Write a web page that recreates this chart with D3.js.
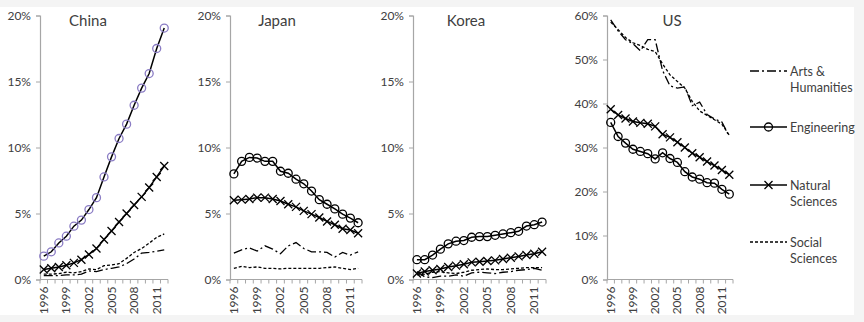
<!DOCTYPE html>
<html>
<head>
<meta charset="utf-8">
<script src="https://cdn.jsdelivr.net/npm/d3@7"></script>
<style>
  html, body { margin: 0; padding: 0; background: #f4f4f4; }
  svg { display: block; }
  text { font-family: Lato, "Open Sans", sans-serif; fill: #404040; }
</style>
</head>
<body>
<script>
// ---------- DATA ----------
const years = [1996,1997,1998,1999,2000,2001,2002,2003,2004,2005,2006,2007,2008,2009,2010,2011,2012];
const yearTickLabels = [1996,1999,2002,2005,2008,2011];
const seriesNames = ["Arts &\nHumanities", "Engineering", "Natural\nSciences", "Social\nSciences"];

const chinaArts = [0.3,0.3,0.3,0.35,0.35,0.4,0.65,0.6,0.75,0.85,0.95,1.2,1.55,2.0,2.05,2.15,2.25];
const chinaEng  = [1.77,2.1,2.77,3.28,4.04,4.5,5.3,6.2,7.77,9.29,10.68,11.77,13.2,14.5,15.6,17.5,19.05];
const chinaNat  = [0.76,0.85,0.95,1.08,1.26,1.5,1.9,2.35,3.03,3.68,4.36,5.0,5.65,6.26,6.97,7.77,8.6];
const chinaSoc  = [0.4,0.4,0.45,0.55,0.5,0.6,0.8,0.75,1.05,1.1,1.2,1.6,2.05,2.35,2.75,3.2,3.45];

const japanArts = [2.0,2.25,2.4,2.15,2.55,2.3,1.95,2.55,2.8,2.35,2.1,2.1,2.05,1.7,2.05,1.85,2.1];
const japanEng  = [8.0,8.95,9.25,9.2,8.95,8.95,8.2,8.05,7.6,7.25,6.7,6.05,5.7,5.35,4.95,4.65,4.3];
const japanNat  = [6.0,6.05,6.1,6.2,6.2,6.1,5.95,5.7,5.5,5.2,4.95,4.7,4.4,4.15,3.85,3.75,3.5];
const japanSoc  = [0.85,1.0,0.9,0.95,0.85,0.85,0.8,0.85,0.85,0.85,0.85,0.85,0.9,0.95,0.85,0.75,0.85];

const koreaArts = [0.6,0.2,0.15,0.25,0.25,0.35,0.25,0.5,0.55,0.5,0.45,0.55,0.6,0.7,0.75,0.85,0.7];
const koreaEng  = [1.5,1.5,1.85,2.3,2.7,2.9,2.95,3.2,3.25,3.25,3.35,3.45,3.55,3.65,4.05,4.15,4.35];
const koreaNat  = [0.45,0.6,0.7,0.8,0.95,1.05,1.15,1.3,1.35,1.4,1.45,1.55,1.65,1.75,1.85,1.95,2.1];
const koreaSoc  = [0.35,0.4,0.55,0.6,0.5,0.45,0.55,0.7,0.75,0.8,0.75,0.75,0.8,0.85,0.9,0.9,0.9];

const usArts = [59.0,56.5,54.5,53.6,52.0,54.5,54.5,47.5,44.0,43.5,43.8,39.5,40.3,37.5,36.5,35.8,32.5];
const usEng  = [35.7,32.5,31.0,29.6,29.1,28.6,27.4,28.8,27.5,26.6,24.5,23.3,22.8,22.0,21.9,20.5,19.4];
const usNat  = [38.7,37.4,36.6,35.9,35.6,35.4,34.8,33.0,32.3,31.2,30.0,28.7,27.8,26.8,25.9,24.9,23.8];
const usSoc  = [58.5,56.8,55.0,53.8,53.2,52.3,51.8,49.0,46.5,45.0,43.5,40.5,38.3,37.3,36.3,35.3,32.8];

const panels = [
  {title:"China", arts:chinaArts, eng:chinaEng, nat:chinaNat, soc:chinaSoc, yMax:20, yStep:5, x0:40, x1:168, titleX:88, engColor:"#8a7cc4"},
  {title:"Japan", arts:japanArts, eng:japanEng, nat:japanNat, soc:japanSoc, yMax:20, yStep:5, x0:230, x1:362, titleX:277, engColor:"#000"},
  {title:"Korea", arts:koreaArts, eng:koreaEng, nat:koreaNat, soc:koreaSoc, yMax:20, yStep:5, x0:413, x1:546, titleX:466, engColor:"#000"},
  {title:"US",    arts:usArts,    eng:usEng,    nat:usNat,    soc:usSoc,    yMax:60, yStep:10, x0:607, x1:733, titleX:672, engColor:"#000"}
];

// ---------- DRAW ----------
const W = 864, H = 322;
const svg = d3.select("body").append("svg").attr("width", W).attr("height", H);
svg.append("rect").attr("x",0).attr("y",7).attr("width",854).attr("height",308).attr("fill","#fff");

const yTop = 15.5, yBot = 279.5;
const styles = {
  arts: {dash:"9,3,2,3", w:1.3},
  eng:  {dash:null, w:1.5},
  nat:  {dash:null, w:1.5},
  soc:  {dash:"3,2", w:1.3}
};

function drawCircle(g, x, y, color) {
  g.append("circle").attr("cx",x).attr("cy",y).attr("r",4)
    .attr("fill","none").attr("stroke",color).attr("stroke-width",1.3);
}
function drawX(g, x, y) {
  const s = 4;
  g.append("path").attr("d",`M${x-s},${y-s}L${x+s},${y+s}M${x-s},${y+s}L${x+s},${y-s}`)
    .attr("stroke","#000").attr("stroke-width",1.3).attr("fill","none");
}

panels.forEach(p => {
  const g = svg.append("g");
  const x = d3.scaleBand().domain(years).range([p.x0, p.x1]);
  const cx = d => x(d) + x.bandwidth()/2;
  const y = d3.scaleLinear().domain([0, p.yMax]).range([yBot, yTop]);

  // y axis
  const yAxis = d3.axisLeft(y).tickValues(d3.range(0, p.yMax + 0.001, p.yStep))
    .tickFormat(d => d + "%").tickSize(4).tickPadding(5);
  const ya = g.append("g").attr("transform", `translate(${p.x0},0)`).call(yAxis);
  ya.select(".domain").attr("stroke","#a6a6a6").attr("stroke-width",1.2);
  ya.selectAll(".tick line").attr("stroke","#a6a6a6");
  ya.selectAll("text").style("font-size","12px").style("font-family","Lato, sans-serif").attr("fill","#404040");

  // x axis
  const xa = g.append("g").attr("transform", `translate(0,${yBot})`);
  xa.append("line").attr("x1",p.x0).attr("x2",p.x1).attr("y1",0).attr("y2",0)
    .attr("stroke","#a6a6a6").attr("stroke-width",1.2);
  years.concat([null]).forEach((yr, i) => {
    const tx = yr === null ? p.x1 : x(yr);
    xa.append("line").attr("x1",tx).attr("x2",tx).attr("y1",0).attr("y2",4)
      .attr("stroke","#a6a6a6");
  });
  yearTickLabels.forEach(yr => {
    xa.append("text").attr("transform", `translate(${cx(yr)+4},7) rotate(-90)`)
      .attr("text-anchor","end").style("font-size","12px").text(yr);
  });

  // title
  g.append("text").attr("x", p.titleX).attr("y", 26).attr("text-anchor","middle")
    .style("font-size","15px").text(p.title);

  // lines
  const line = d3.line().x((d,i) => cx(years[i])).y(d => y(d));
  [["arts",p.arts],["soc",p.soc],["nat",p.nat],["eng",p.eng]].forEach(([k, arr]) => {
    g.append("path").datum(arr).attr("d", line).attr("fill","none")
      .attr("stroke","#000").attr("stroke-width",styles[k].w)
      .attr("stroke-dasharray", styles[k].dash);
  });
  p.nat.forEach((v,i) => drawX(g, cx(years[i]), y(v)));
  p.eng.forEach((v,i) => drawCircle(g, cx(years[i]), y(v), p.engColor));
});

// legend
const lg = svg.append("g");
const legendItems = [
  {key:"arts", y:71, lines:["Arts &","Humanities"]},
  {key:"eng",  y:127, lines:["Engineering"]},
  {key:"nat",  y:185, lines:["Natural","Sciences"]},
  {key:"soc",  y:242, lines:["Social","Sciences"]}
];
legendItems.forEach(it => {
  const st = styles[it.key];
  lg.append("line").attr("x1",750).attr("x2",787).attr("y1",it.y).attr("y2",it.y)
    .attr("stroke","#000").attr("stroke-width",st.w).attr("stroke-dasharray", st.dash);
  if (it.key === "eng") drawCircle(lg, 768.5, it.y, "#000");
  if (it.key === "nat") drawX(lg, 768.5, it.y);
  it.lines.forEach((t, j) => {
    lg.append("text").attr("x",790).attr("y", it.y + 4.5 + j*16.5)
      .style("font-size","12.5px").text(t);
  });
});
</script>
</body>
</html>
